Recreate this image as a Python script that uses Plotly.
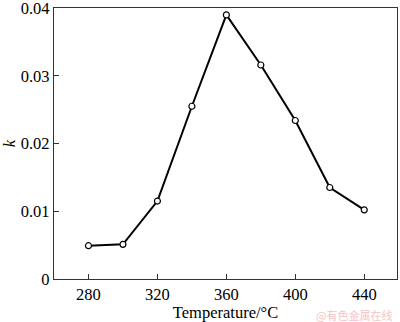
import plotly.graph_objects as go

temperature = [280, 300, 320, 340, 360, 380, 400, 420, 440]
k_values = [0.0049, 0.0051, 0.0115, 0.0255, 0.0390, 0.0316, 0.0234, 0.0135, 0.0102]
x_ticks = [280, 320, 360, 400, 440]
y_ticks = [0, 0.01, 0.02, 0.03, 0.04]
y_tick_labels = ["0", "0.01", "0.02", "0.03", "0.04"]

font = "Liberation Serif, Times New Roman, serif"

fig = go.Figure()
fig.add_trace(go.Scatter(
    x=temperature, y=k_values, mode="lines+markers",
    line=dict(color="black", width=2),
    marker=dict(symbol="circle", size=6, color="white",
                line=dict(color="black", width=1.2)),
    showlegend=False,
))

axis_common = dict(
    showline=True, linecolor="#333", linewidth=1.2, mirror=True,
    ticks="inside", ticklen=5, tickcolor="#333", showgrid=False,
    zeroline=False, automargin=False, ticklabeloverflow="allow",
    tickfont=dict(family=font, size=16.5, color="black"),
)
fig.update_xaxes(range=[260, 459], tickvals=x_ticks, **axis_common,
                 title=dict(text="Temperature/°C", font=dict(family=font, size=16.5, color="black"),
                            standoff=4))
fig.update_yaxes(range=[-0.00002, 0.04002], tickvals=y_ticks, ticktext=y_tick_labels, **axis_common,
                 title=dict(text="<i>k</i>", font=dict(family=font, size=16.5, color="black"),
                            standoff=5))

fig.add_annotation(text="@有色金属在线", xref="paper", yref="paper", x=0.992, y=-0.131,
                   xanchor="right", yanchor="middle", showarrow=False,
                   font=dict(family="Noto Sans CJK SC", size=11, color="#f3c6c6"))

fig.update_layout(
    width=400, height=322,
    margin=dict(l=54, r=3, t=8, b=43),
    plot_bgcolor="white", paper_bgcolor="white",
)
fig.write_html("out.html", config={"displayModeBar": False},
               post_script="document.body.style.margin='0';")
